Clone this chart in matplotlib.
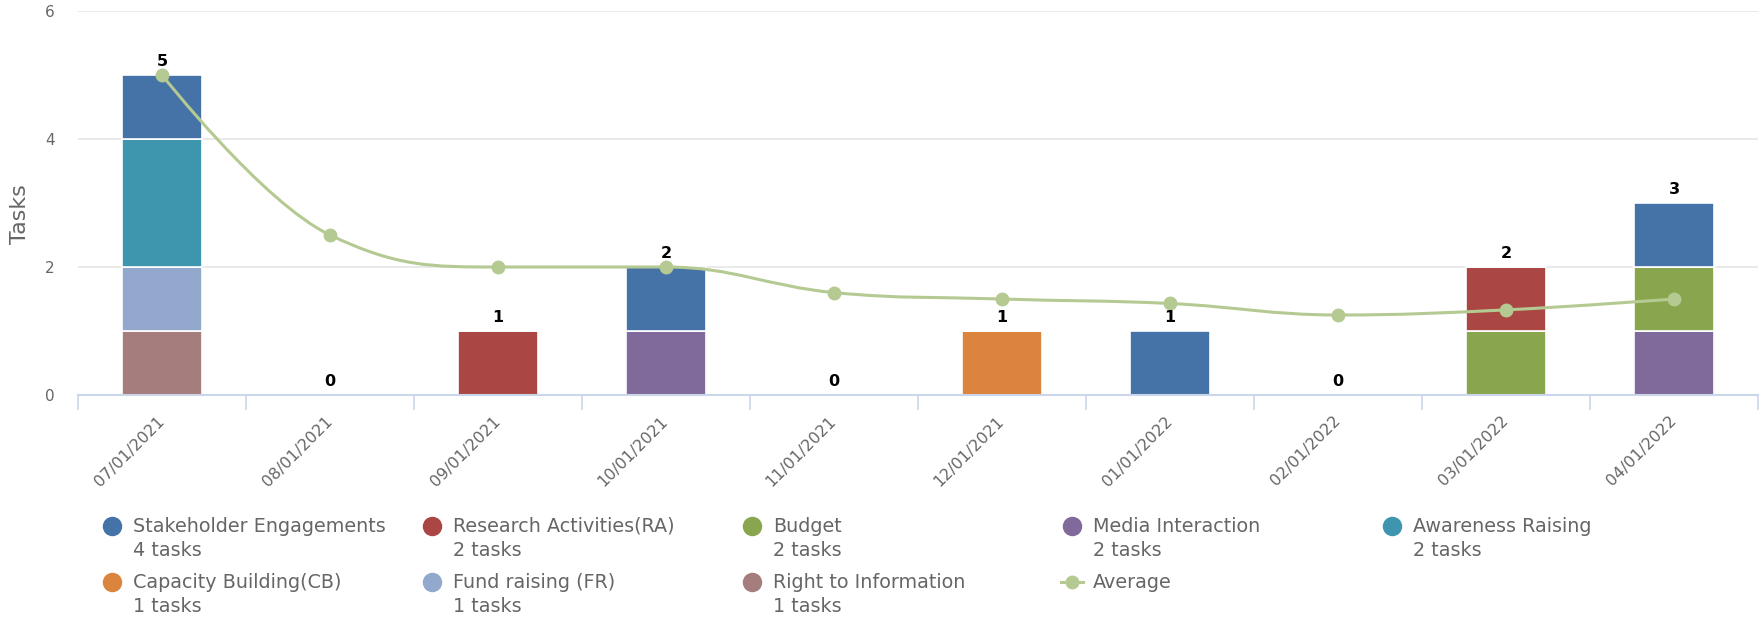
import numpy as np
import matplotlib
matplotlib.use('Agg')
import matplotlib.pyplot as plt
from matplotlib.path import Path
from matplotlib.patches import PathPatch
from matplotlib.lines import Line2D

months = ['07/01/2021', '08/01/2021', '09/01/2021', '10/01/2021', '11/01/2021',
          '12/01/2021', '01/01/2022', '02/01/2022', '03/01/2022', '04/01/2022']

series_names = ['Stakeholder Engagements', 'Research Activities(RA)', 'Budget',
                'Media Interaction', 'Awareness Raising', 'Capacity Building(CB)',
                'Fund raising (FR)', 'Right to Information']
stakeholder = [1, 0, 0, 1, 0, 0, 1, 0, 0, 1]
research    = [0, 0, 1, 0, 0, 0, 0, 0, 1, 0]
budget      = [0, 0, 0, 0, 0, 0, 0, 0, 1, 1]
media       = [0, 0, 0, 1, 0, 0, 0, 0, 0, 1]
awareness   = [2, 0, 0, 0, 0, 0, 0, 0, 0, 0]
capacity    = [0, 0, 0, 0, 0, 1, 0, 0, 0, 0]
fundraising = [1, 0, 0, 0, 0, 0, 0, 0, 0, 0]
rti         = [1, 0, 0, 0, 0, 0, 0, 0, 0, 0]
series_vals = [stakeholder, research, budget, media, awareness, capacity, fundraising, rti]
task_counts = [4, 2, 2, 2, 2, 1, 1, 1]
totals = [5, 0, 1, 2, 0, 1, 1, 0, 2, 3]
average = [5, 2.5, 2, 2, 1.6, 1.5, 1.43, 1.25, 1.33, 1.5]

COLORS = ['#4572a7', '#aa4643', '#89a54e', '#80699b', '#3d96ae', '#db843d', '#92a8cd', '#a47d7c']
AVG_COLOR = '#b5ca92'
TXT = '#666666'
AXIS = '#ccd6eb'


def spline_path(xs, ys, smoothing=1.5):
    # highcharts-style spline: cubic segments, controls clamped to avoid false extremes
    n = len(xs); denom = smoothing + 1
    rc = [(xs[i], ys[i]) for i in range(n)]
    lc = [(xs[i], ys[i]) for i in range(n)]
    for i in range(1, n - 1):
        px, py = xs[i], ys[i]
        lx, ly = xs[i-1], ys[i-1]
        nx, ny = xs[i+1], ys[i+1]
        lcx = (smoothing*px + lx)/denom; lcy = (smoothing*py + ly)/denom
        rcx = (smoothing*px + nx)/denom; rcy = (smoothing*py + ny)/denom
        corr = (rcy - lcy)*(rcx - px)/(rcx - lcx) + py - rcy
        lcy += corr; rcy += corr
        if lcy > ly and lcy > py:
            lcy = max(ly, py); rcy = 2*py - lcy
        elif lcy < ly and lcy < py:
            lcy = min(ly, py); rcy = 2*py - lcy
        if rcy > ny and rcy > py:
            rcy = max(ny, py); lcy = 2*py - rcy
        elif rcy < ny and rcy < py:
            rcy = min(ny, py); lcy = 2*py - rcy
        lc[i] = (lcx, lcy); rc[i] = (rcx, rcy)
    verts = [(xs[0], ys[0])]; codes = [Path.MOVETO]
    for i in range(1, n):
        verts += [rc[i-1], lc[i], (xs[i], ys[i])]
        codes += [Path.CURVE4]*3
    return Path(verts, codes)


fig = plt.figure(figsize=(17.6, 6.2), dpi=100)
ax = fig.add_axes([78/1760, 1 - 395/620, 1680/1760, 384/620])
x = np.arange(len(months))

# stack: first series on top, so draw from the last one upward
bottom = np.zeros(len(months))
for vals, col in reversed(list(zip(series_vals, COLORS))):
    v = np.array(vals, dtype=float)
    ax.bar(x, v, width=0.476, bottom=bottom, color=col, edgecolor='white', linewidth=1.2, zorder=2)
    bottom += v

for i, t in enumerate(totals):
    ax.annotate(str(t), (i, t), xytext=(0, 4.5), textcoords='offset points', ha='center', va='bottom',
                fontsize=11.5, fontweight='bold', color='black', zorder=6)

ax.add_patch(PathPatch(spline_path(list(x), average), facecolor='none', edgecolor=AVG_COLOR,
                       linewidth=2.2, zorder=4))
ax.plot(x, average, linestyle='none', marker='o', markersize=9, color=AVG_COLOR, zorder=5)

ax.set_xlim(-0.5, 9.5); ax.set_ylim(0, 6)
ax.set_yticks([0, 2, 4, 6])
ax.yaxis.grid(True, color='#e6e6e6', linewidth=1.2, zorder=0)
ax.set_axisbelow(True)
ax.tick_params(axis='y', length=0, pad=17, labelsize=11, labelcolor=TXT)
ax.set_ylabel('Tasks', fontsize=16, color=TXT)
ax.yaxis.set_label_coords(-0.0286, 0.47)

ax.set_xticks(x)
ax.set_xticklabels(months, rotation=45, ha='right', rotation_mode='anchor', va='center')
ax.tick_params(axis='x', which='major', length=0, pad=17, labelsize=11.5, labelcolor=TXT)
ax.set_xticks(np.arange(-0.5, 9.6, 1), minor=True)
ax.tick_params(axis='x', which='minor', length=11, width=1.2, color=AXIS)
for s in ['top', 'right', 'left']:
    ax.spines[s].set_visible(False)
ax.spines['bottom'].set_color(AXIS)
ax.spines['bottom'].set_linewidth(1.5)

# legend, laid out like the original (5 columns, two-line labels)
col_x = [112, 432, 752, 1072, 1392]
row_y = [526, 582]
for k, (name, col, cnt) in enumerate(zip(series_names, COLORS, task_counts)):
    r, c = divmod(k, 5)
    mx = col_x[c] / 1760; my = 1 - row_y[r] / 620
    fig.add_artist(Line2D([mx], [my], marker='o', markersize=13, color=col, linestyle='none',
                          transform=fig.transFigure))
    fig.text(mx + 21/1760, my + 9/620, f'{name}\n{cnt} tasks', fontsize=13.8, color=TXT,
             ha='left', va='top', linespacing=1.3)
mx = col_x[3] / 1760; my = 1 - row_y[1] / 620
fig.add_artist(Line2D([mx - 11/1760, mx + 11/1760], [my, my], marker=None, linewidth=2.2,
                      color=AVG_COLOR, transform=fig.transFigure))
fig.add_artist(Line2D([mx], [my], marker='o', markersize=9, color=AVG_COLOR, linestyle='none',
                      transform=fig.transFigure))
fig.text(mx + 21/1760, my + 9/620, 'Average', fontsize=13.8, color=TXT, ha='left', va='top')

fig.savefig('out.png', dpi=100, facecolor='white')
